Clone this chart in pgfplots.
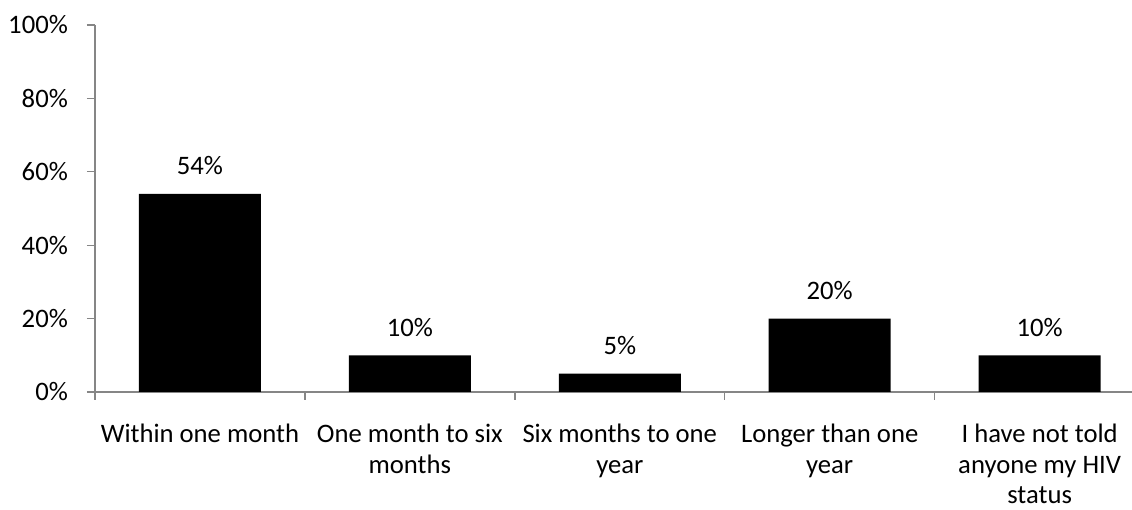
\documentclass[border=0pt]{standalone}
\usepackage{fontspec}
\setmainfont{Carlito}
\usepackage{pgfplots}
\pgfplotsset{compat=1.18}
\definecolor{axgray}{HTML}{868686}
\begin{document}
\fontsize{20pt}{22.9pt}\selectfont
\begin{tikzpicture}
\useasboundingbox (0,0) rectangle (849pt,382.5pt);
\begin{axis}[
  at={(71.25pt,88.5pt)}, anchor=south west,
  scale only axis, width=777.75pt, height=275.25pt,
  xmin=-0.5, xmax=4.44, ymin=0, ymax=100,
  axis x line=bottom, axis y line=left,
  axis line style={draw=axgray, line width=1pt, -},
  ybar, bar width=91.5pt,
  ytick={0,20,...,100},
  yticklabel={\pgfmathprintnumber{\tick}\%},
  /pgf/number format/assume math mode=true,
  tick align=outside,
  major tick length=6pt, minor tick length=6pt,
  major x tick style={draw=none},
  minor x tick style={draw=axgray, line width=1pt},
  major y tick style={draw=axgray, line width=1pt},
  xtick={0,1,2,3,4},
  minor xtick={-0.5,0.5,1.5,2.5,3.5},
  xticklabels={Within one month, One month to six\\months, Six months to one\\year, Longer than one\\year, I have not told\\anyone my HIV\\status},
  xticklabel style={align=center, anchor=north, inner ysep=0pt, yshift=-18pt},
  yticklabel style={anchor=east, xshift=-7.5pt},
  nodes near coords={\pgfmathprintnumber{\pgfplotspointmeta}\%},
  every node near coord/.append style={anchor=center, yshift=21pt, black},
]
\addplot[fill=black, draw=none] coordinates {(0,54) (1,10) (2,5) (3,20) (4,10)};
\end{axis}
\end{tikzpicture}
\end{document}
